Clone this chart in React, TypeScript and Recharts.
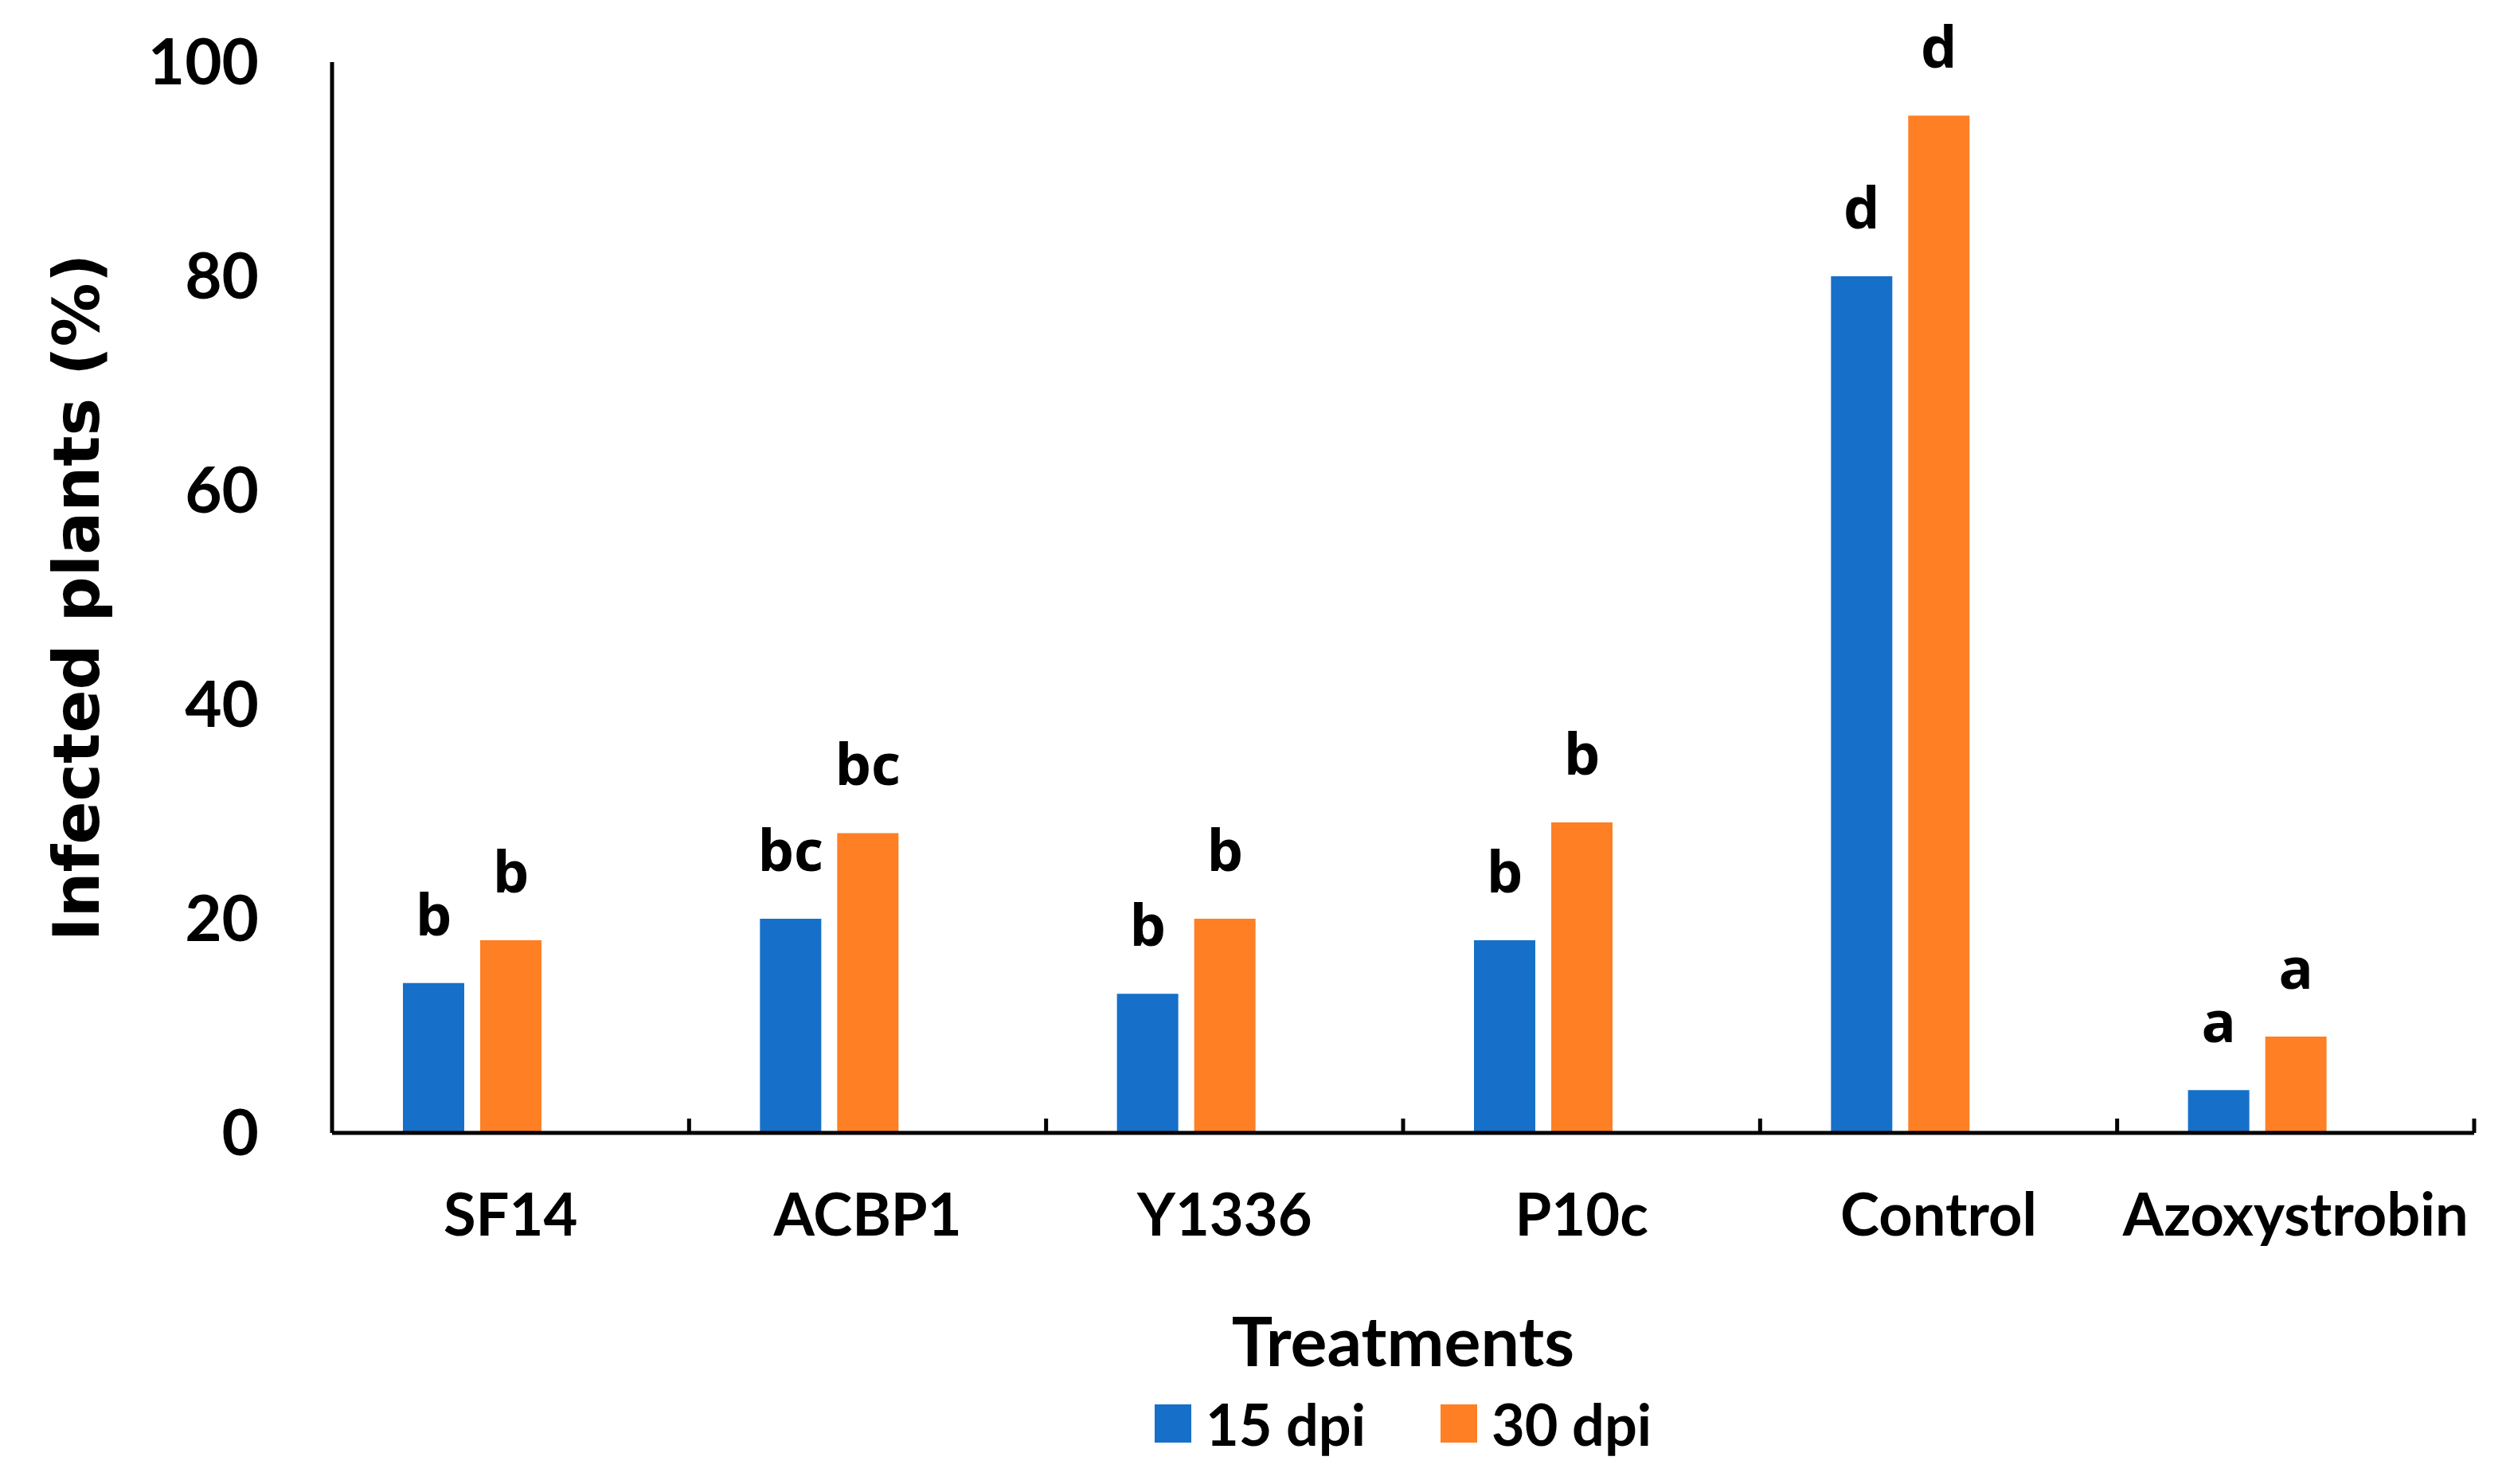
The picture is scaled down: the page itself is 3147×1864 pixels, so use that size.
import React from 'react';
import { BarChart, Bar, XAxis, YAxis, Legend, LabelList } from 'recharts';

const categories = ['SF14', 'ACBP1', 'Y1336', 'P10c', 'Control', 'Azoxystrobin'];
const dpi15 = [14, 20, 13, 18, 80, 4];
const dpi30 = [18, 28, 20, 29, 95, 9];
const letters15 = ['b', 'bc', 'b', 'b', 'd', 'a'];
const letters30 = ['b', 'bc', 'b', 'b', 'd', 'a'];
const yTicks = [0, 20, 40, 60, 80, 100];

const data = categories.map((name, i) => ({
    name,
    d15: dpi15[i],
    d30: dpi30[i],
    l15: letters15[i],
    l30: letters30[i],
}));

const W = 3147;
const H = 1864;
const margin = { top: 78, right: 40, bottom: 0, left: 91 };
const Y_AXIS_W = 326;
const X_AXIS_H = 441;
const BAND = (W - margin.left - Y_AXIS_W - margin.right) / categories.length;

const BLUE = '#1670C9';
const ORANGE = '#FE7F24';

function XTick(props: any) {
    const { x, y, payload, index } = props;
    const half = BAND / 2;
    return (
        <g>
            {index > 0 && (
                <line x1={x - half} x2={x - half} y1={y} y2={y - 18} stroke="#000" strokeWidth={5} />
            )}
            {index === categories.length - 1 && (
                <line x1={x + half} x2={x + half} y1={y} y2={y - 18} stroke="#000" strokeWidth={5} />
            )}
            <text
                x={x}
                y={y + 129}
                textAnchor="middle"
                fill="#000"
                style={{ fontFamily: 'Lato', fontWeight: 700, fontSize: 74 }}
            >
                {payload.value}
            </text>
        </g>
    );
}

function LegendBox(props: any) {
    const items = (props.payload || []).filter((p: any) => p.type !== 'none');
    return (
        <div style={{ display: 'flex', justifyContent: 'center', alignItems: 'center', height: 80 }}>
            {items.map((p: any, i: number) => (
                <div key={p.value} style={{ display: 'flex', alignItems: 'center', marginLeft: i > 0 ? 94 : 0 }}>
                    <div style={{ width: 46, height: 48, background: p.color, marginRight: 18 }} />
                    <span style={{ fontFamily: 'Lato', fontWeight: 700, fontSize: 72, lineHeight: 1, color: '#000' }}>
                        {p.value}
                    </span>
                </div>
            ))}
        </div>
    );
}

const letterStyle = { fontFamily: 'Open Sans', fontWeight: 700, fontSize: 72, fill: '#000' };

export default function App() {
    return (
        <div style={{ position: 'absolute', left: 0, top: 0, width: W, height: H, background: '#fff' }}>
            <BarChart width={W} height={H} data={data} margin={margin} barSize={77} barGap={20}>
                <XAxis
                    dataKey="name"
                    height={X_AXIS_H}
                    interval={0}
                    tickLine={false}
                    tickSize={0}
                    tickMargin={0}
                    axisLine={{ stroke: '#000', strokeWidth: 5 }}
                    tick={<XTick />}
                    label={{
                        value: 'Treatments',
                        position: 'insideBottom',
                        offset: 148,
                        style: { fontFamily: 'Lato', fontWeight: 700, fontSize: 86, fill: '#000' },
                    }}
                />
                <YAxis
                    width={Y_AXIS_W}
                    domain={[0, 100]}
                    ticks={yTicks}
                    interval={0}
                    tickLine={false}
                    tickSize={0}
                    tickMargin={92}
                    axisLine={{ stroke: '#000', strokeWidth: 5 }}
                    tick={{ fill: '#000', fontFamily: 'Lato', fontWeight: 700, fontSize: 80 }}
                    label={{
                        value: 'Infected plants (%)',
                        angle: -90,
                        position: 'insideLeft',
                        offset: 5,
                        style: {
                            textAnchor: 'middle',
                            fontFamily: 'DejaVu Sans',
                            fontWeight: 700,
                            fontSize: 80,
                            fill: '#000',
                        },
                    }}
                />
                <Legend
                    verticalAlign="middle"
                    align="center"
                    wrapperStyle={{ top: 1748, left: 417, width: 2690 }}
                    content={<LegendBox />}
                />
                <Bar dataKey="d15" name="15 dpi" fill={BLUE} isAnimationActive={false}>
                    <LabelList dataKey="l15" position="top" offset={60} style={letterStyle} />
                </Bar>
                <Bar dataKey="d30" name="30 dpi" fill={ORANGE} isAnimationActive={false}>
                    <LabelList dataKey="l30" position="top" offset={60} style={letterStyle} />
                </Bar>
                <Bar dataKey="spacer" legendType="none" fill="none" isAnimationActive={false} />
            </BarChart>
        </div>
    );
}
